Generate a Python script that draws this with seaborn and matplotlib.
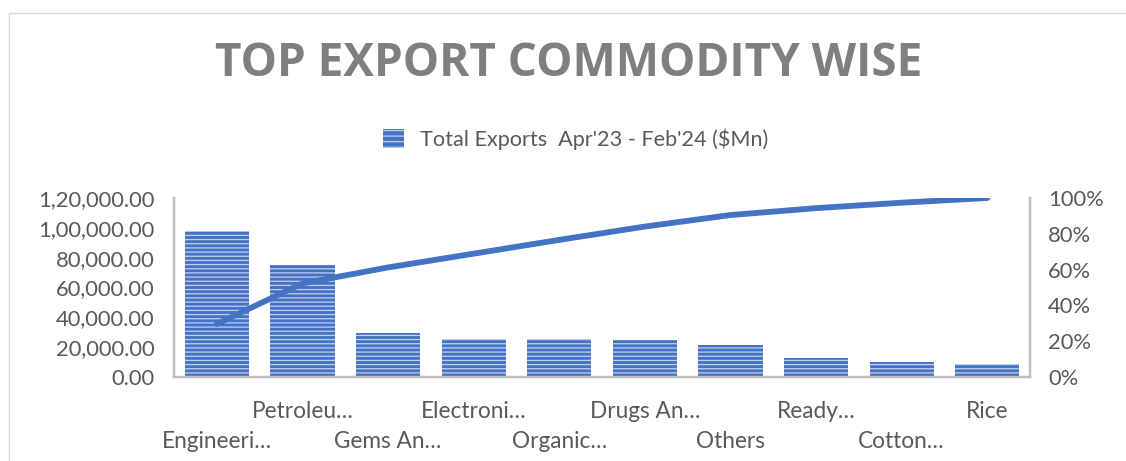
import matplotlib
matplotlib.use("Agg")
import matplotlib.pyplot as plt
from matplotlib.patches import Patch, Rectangle
from matplotlib.ticker import FuncFormatter
import numpy as np
import pandas as pd
import seaborn as sns

# Commodity exports, Apr'23 - Feb'24 ($Mn)
categories = ["Engineeri…", "Petroleu…", "Gems An…", "Electroni…", "Organic…",
              "Drugs An…", "Others", "Ready…", "Cotton…", "Rice"]
exports = [98200, 75100, 29600, 25500, 25500, 24700, 21300, 12800, 10100, 8700]
left_ticks = [0, 20000, 40000, 60000, 80000, 100000, 120000]
right_ticks = [0, 0.2, 0.4, 0.6, 0.8, 1.0]
series_name = "Total Exports  Apr'23 - Feb'24 ($Mn)"
title = "TOP EXPORT COMMODITY WISE"

df = pd.DataFrame({"commodity": categories, "exports": exports})
df["cum_share"] = df["exports"].cumsum() / df["exports"].sum()

sns.set_theme(style="white")
plt.rcParams["font.family"] = ["Lato", "DejaVu Sans"]
plt.rcParams["hatch.linewidth"] = 0.9

BLUE = "#4472C4"
STRIPE = "#C3D1EE"
GRID_GREY = "#BFBFBF"
TEXT_GREY = "#595959"

W, H = 1126, 461
fig = plt.figure(figsize=(W / 100, H / 100), dpi=100)
fig.patch.set_facecolor("white")

# chart frame
fig.add_artist(Rectangle((8.5 / W, -0.2), 1.2, 1.2 - 12.5 / H,
                         transform=fig.transFigure, fill=False,
                         edgecolor="#D9D9D9", linewidth=1.0))

ax = fig.add_axes([174 / W, (H - 377) / H, (1030 - 174) / W, (377 - 198) / H])
sns.barplot(data=df, x="commodity", y="exports", ax=ax, width=0.75,
            color=BLUE, saturation=1)
for bar in ax.patches:
    bar.set_facecolor(BLUE)
    bar.set_edgecolor(STRIPE)
    bar.set_linewidth(0)
    bar.set_hatch("----")

ax.set_xlim(-0.5, len(categories) - 0.5)
ax.set_ylim(0, 120000)
ax.set_yticks(left_ticks)


def indian_fmt(v, _pos=None):
    v = int(round(v))
    s = str(v)
    if len(s) > 3:
        head, tail = s[:-3], s[-3:]
        groups = []
        while len(head) > 2:
            groups.insert(0, head[-2:])
            head = head[:-2]
        if head:
            groups.insert(0, head)
        s = ",".join(groups) + "," + tail
    return s + ".00"


ax.yaxis.set_major_formatter(FuncFormatter(indian_fmt))
ax.set_xlabel("")
ax.set_ylabel("")

ax2 = ax.twinx()
sns.lineplot(x=np.arange(len(categories)), y=df["cum_share"].values, ax=ax2,
             color=BLUE, linewidth=4.2, solid_capstyle="round")
ax2.set_ylim(0, 1.0)
ax2.set_yticks(right_ticks)
ax2.yaxis.set_major_formatter(FuncFormatter(lambda v, p: f"{v * 100:.0f}%"))
ax2.set_xlim(-0.5, len(categories) - 0.5)

for a in (ax, ax2):
    a.spines["top"].set_visible(False)
    for s in ("left", "right", "bottom"):
        a.spines[s].set_color(GRID_GREY)
        a.spines[s].set_linewidth(1.6)
    a.tick_params(length=0, labelsize=15.8, labelcolor=TEXT_GREY)
    a.set_facecolor("none")

ax.tick_params(axis="y", pad=14)
ax2.tick_params(axis="y", pad=13)
ax.tick_params(axis="x", labelsize=16.3)

# staggered category labels
ax.set_xticks(range(len(categories)))
ax.set_xticklabels(categories)
for i, tick in enumerate(ax.xaxis.get_major_ticks()):
    tick.set_pad(17 if i % 2 else 39)

fig.text(0.505, 1 - 64 / H, title, ha="center", va="center",
         fontsize=33, fontweight="bold", color="#7F7F7F",
         family=["Open Sans", "DejaVu Sans"])

handle = Patch(facecolor=BLUE, edgecolor=STRIPE, hatch="---", linewidth=0)
fig.legend([handle], [series_name], loc="center",
           bbox_to_anchor=(576 / W, 1 - 139 / H), frameon=False,
           fontsize=15.6, labelcolor=TEXT_GREY, handlelength=0.95,
           handleheight=1.0, handletextpad=0.75)

fig.savefig("out.png", dpi=100, facecolor="white")
